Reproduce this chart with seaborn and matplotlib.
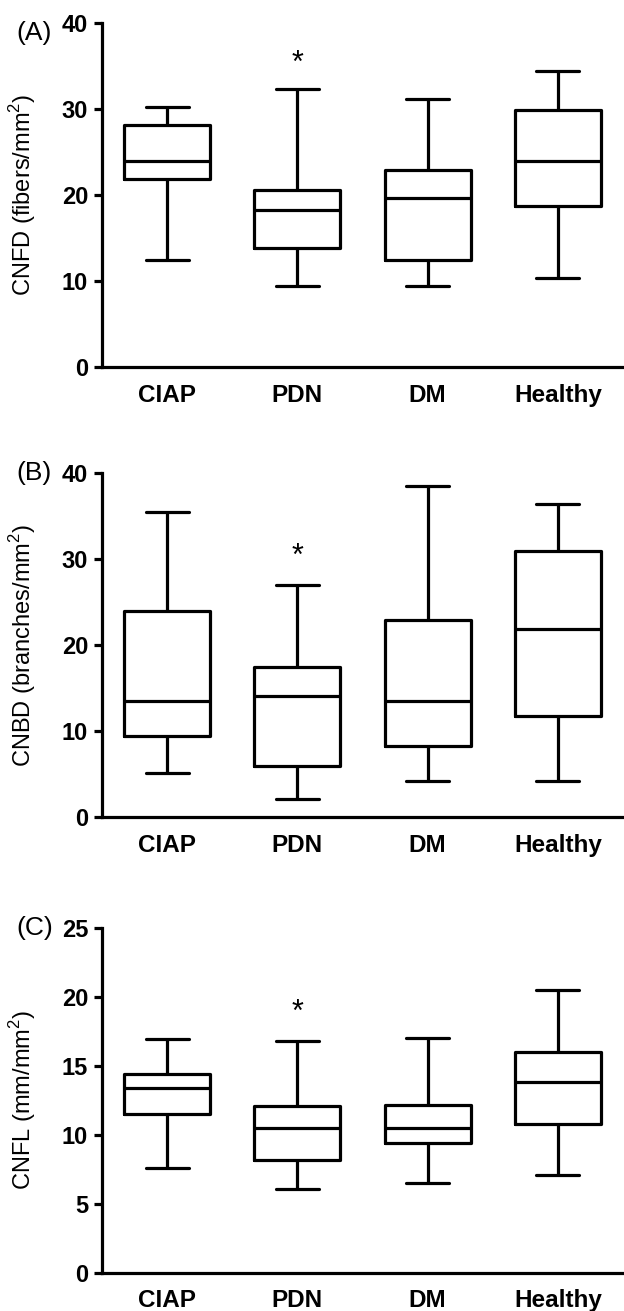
import matplotlib
matplotlib.use("Agg")
import matplotlib.pyplot as plt
import pandas as pd
import seaborn as sns

groups = ["CIAP", "PDN", "DM", "Healthy"]

# five-number summaries: min, Q1, median, Q3, max
cnfd = {
    "CIAP": [12.5, 21.9, 24.0, 28.1, 30.2],
    "PDN": [9.4, 13.8, 18.3, 20.6, 32.3],
    "DM": [9.4, 12.5, 19.7, 22.9, 31.2],
    "Healthy": [10.4, 18.7, 24.0, 29.9, 34.4],
}
cnbd = {
    "CIAP": [5.2, 9.4, 13.5, 23.9, 35.4],
    "PDN": [2.1, 6.0, 14.1, 17.4, 27.0],
    "DM": [4.2, 8.3, 13.5, 22.9, 38.5],
    "Healthy": [4.2, 11.8, 21.9, 30.9, 36.4],
}
cnfl = {
    "CIAP": [7.6, 11.5, 13.4, 14.4, 16.9],
    "PDN": [6.1, 8.2, 10.5, 12.1, 16.8],
    "DM": [6.5, 9.4, 10.5, 12.15, 17.0],
    "Healthy": [7.1, 10.8, 13.8, 16.0, 20.5],
}
star_y = [35.3, 30.2, 18.8]
panel_letters = ["(A)", "(B)", "(C)"]
ylabels = ["CNFD (fibers/mm$^2$)", "CNBD (branches/mm$^2$)", "CNFL (mm/mm$^2$)"]
ymax = [40, 40, 25]
ystep = [10, 10, 5]

sns.set_style("ticks")
plt.rcParams["font.family"] = ["Liberation Sans", "DejaVu Sans"]
plt.rcParams["mathtext.fontset"] = "custom"
plt.rcParams["mathtext.rm"] = "Liberation Sans"
for k in ["text.color", "axes.labelcolor", "xtick.color", "ytick.color", "axes.edgecolor"]:
    plt.rcParams[k] = "black"

fig = plt.figure(figsize=(6.24, 13.11), dpi=100)
W, H = 624, 1311
left, right = 102, 623
tops = [23, 472.7, 927.7]
bottoms = [367, 817.3, 1272.7]

lw = 2.3
for i, d in enumerate([cnfd, cnbd, cnfl]):
    ax = fig.add_axes([left / W, 1 - bottoms[i] / H, (right - left) / W,
                       (bottoms[i] - tops[i]) / H])
    df = pd.DataFrame([(g, v) for g in groups for v in d[g]], columns=["group", "value"])
    sns.boxplot(data=df, x="group", y="value", order=groups, ax=ax,
                whis=(0, 100), width=0.66, fill=False, color="black",
                linecolor="black", linewidth=lw, showfliers=False)
    ax.set_ylim(0, ymax[i])
    ax.set_xlim(-0.5, 3.5)
    ax.set_yticks(range(0, ymax[i] + 1, ystep[i]))
    for s in ["top", "right"]:
        ax.spines[s].set_visible(False)
    for s in ["left", "bottom"]:
        ax.spines[s].set_linewidth(lw)
        ax.spines[s].set_color("black")
    ax.tick_params(axis="y", length=6, width=lw, pad=4, labelsize=17, colors="black")
    ax.tick_params(axis="x", length=0, pad=12, labelsize=17.5, colors="black")
    for lab in ax.get_xticklabels() + ax.get_yticklabels():
        lab.set_fontweight("bold")
    ax.set_xlabel("")
    ax.set_ylabel(ylabels[i], fontsize=17, color="black")
    ax.yaxis.set_label_coords(-0.123, 0.5)
    ax.text(1, star_y[i], "*", ha="center", va="center", fontsize=22, color="black")
    ax.text(-0.165, 0.97 if i == 0 else 1.0, panel_letters[i],
            transform=ax.transAxes, ha="left", va="center", fontsize=19, color="black")

fig.savefig("out.png", dpi=100, facecolor="white")
